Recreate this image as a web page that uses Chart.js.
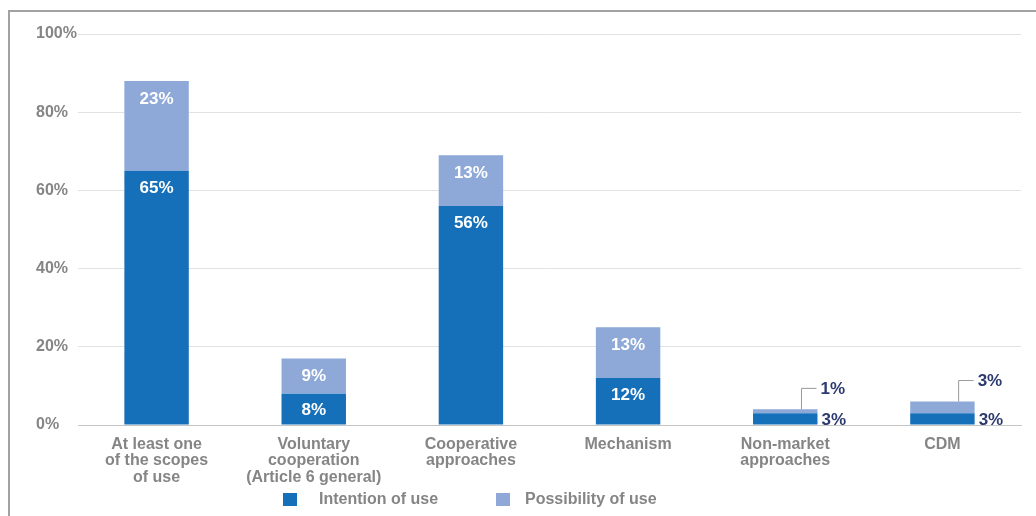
<!DOCTYPE html>
<html>
<head>
<meta charset="utf-8">
<script src="https://cdn.jsdelivr.net/npm/chart.js@4"></script>
<style>
html,body{margin:0;padding:0;background:#fff;}
#wrap{width:1036px;height:516px;position:relative;}
</style>
</head>
<body>
<div id="wrap"><canvas id="c" width="1036" height="516"></canvas></div>
<script>
const categories = [
  ['At least one','of the scopes','of use'],
  ['Voluntary','cooperation','(Article 6 general)'],
  ['Cooperative','approaches'],
  ['Mechanism'],
  ['Non-market','approaches'],
  ['CDM']
];
const intentionOfUse = [65, 8, 56, 12, 3, 3];
const possibilityOfUse = [23, 9, 13, 13, 1, 3];
const seriesNames = ['Intention of use', 'Possibility of use'];
const yTicks = [0, 20, 40, 60, 80, 100];

const DARK = '#1670b9';
const LIGHT = '#8ea9d8';
const GREY = '#858585';
const NAVY = '#2d3a6e';
const FONT = '"Liberation Sans", Arial, sans-serif';

const framePlugin = {
  id: 'frame',
  beforeDraw(chart) {
    const ctx = chart.ctx;
    ctx.save();
    ctx.fillStyle = '#fff';
    ctx.fillRect(0, 0, chart.width, chart.height);
    ctx.strokeStyle = '#a2a2a2';
    ctx.lineWidth = 2;
    ctx.beginPath();
    ctx.moveTo(9, 516);
    ctx.lineTo(9, 11);
    ctx.lineTo(1036, 11);
    ctx.stroke();
    ctx.restore();
  }
};

const labelPlugin = {
  id: 'valueLabels',
  afterDatasetsDraw(chart) {
    const ctx = chart.ctx;
    ctx.save();
    ctx.textBaseline = 'middle';
    const m0 = chart.getDatasetMeta(0), m1 = chart.getDatasetMeta(1);
    m0.data.forEach((bar0, i) => {
      const bar1 = m1.data[i];
      const v0 = intentionOfUse[i], v1 = possibilityOfUse[i];
      const total = v0 + v1;
      const half = bar0.width / 2;
      if (total >= 10) {
        ctx.font = 'bold 17px ' + FONT;
        ctx.fillStyle = '#fff';
        ctx.textAlign = 'center';
        ctx.fillText(v0 + '%', bar0.x, bar0.y + 17);
        ctx.fillText(v1 + '%', bar1.x, bar1.y + 18);
      } else {
        ctx.font = 'bold 17px ' + FONT;
        const right = bar0.x + half;
        ctx.fillStyle = NAVY;
        ctx.textAlign = 'left';
        ctx.fillText(v0 + '%', right + 4, (bar0.y + bar0.base) / 2 + 1);
        const lx = right - 16;
        const ly = bar1.y - 21;
        ctx.strokeStyle = '#9a9a9a';
        ctx.lineWidth = 1;
        ctx.beginPath();
        ctx.moveTo(lx, bar1.y);
        ctx.lineTo(lx, ly);
        ctx.lineTo(right - 1, ly);
        ctx.stroke();
        ctx.fillStyle = NAVY;
        ctx.fillText(v1 + '%', right + 3, ly + 1);
      }
    });
    const items = [
      {x: 283, tx: 319, color: DARK, text: seriesNames[0]},
      {x: 496, tx: 525, color: LIGHT, text: seriesNames[1]}
    ];
    ctx.font = 'bold 16px ' + FONT;
    ctx.textAlign = 'left';
    items.forEach(it => {
      ctx.fillStyle = it.color;
      ctx.fillRect(it.x, 493, 14, 13);
      ctx.fillStyle = GREY;
      ctx.fillText(it.text, it.tx, 500);
    });
    ctx.restore();
  }
};

new Chart(document.getElementById('c'), {
  type: 'bar',
  data: {
    labels: categories,
    datasets: [
      {label: seriesNames[0], data: intentionOfUse, backgroundColor: DARK, stack: 's', borderWidth: 0},
      {label: seriesNames[1], data: possibilityOfUse, backgroundColor: LIGHT, stack: 's', borderWidth: 0}
    ]
  },
  options: {
    responsive: false,
    animation: false,
    devicePixelRatio: 1,
    layout: {padding: {left: 36, right: 15, top: 34, bottom: 31}},
    datasets: {bar: {categoryPercentage: 1, barPercentage: 0.41}},
    plugins: {legend: {display: false}, tooltip: {enabled: false}},
    scales: {
      x: {
        stacked: true,
        grid: {display: false, drawTicks: false},
        border: {display: true, color: '#c4c4c4', width: 1},
        ticks: {
          color: GREY, padding: 11, maxRotation: 0, autoSkip: false,
          font: {family: FONT, size: 16, weight: 'bold', lineHeight: 1.03}
        },
        afterFit(s) { s.height = 60; }
      },
      y: {
        stacked: true,
        min: 0, max: 100,
        afterBuildTicks(s) { s.ticks = yTicks.map(v => ({value: v})); },
        grid: {color: '#e2e2e2', lineWidth: 1, drawTicks: false},
        border: {display: false},
        ticks: {
          color: GREY, padding: 2, crossAlign: 'far',
          font: {family: FONT, size: 16, weight: 'bold'},
          callback: v => v + '%'
        },
        afterFit(s) { s.width = 42; }
      }
    }
  },
  plugins: [framePlugin, labelPlugin]
});
</script>
</body>
</html>
